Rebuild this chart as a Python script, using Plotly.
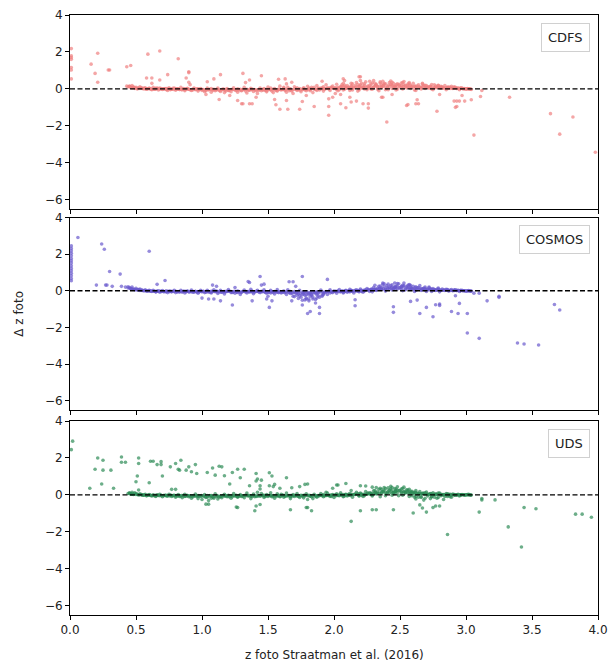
import plotly.graph_objects as go
from plotly.subplots import make_subplots

# ---------------- CDFS ----------------
cdfs_x = [
    0.45,0.46,0.47,0.48,0.50,0.52,0.53,0.55,0.57,0.58,
    0.60,0.62,0.63,0.65,0.67,0.68,0.70,0.72,0.74,0.75,
    0.77,0.79,0.80,0.82,0.84,0.85,0.87,0.89,0.90,0.92,
    0.94,0.95,0.97,0.99,1.00,1.02,1.04,1.05,1.07,1.09,
    1.10,1.12,1.14,1.15,1.17,1.19,1.20,1.22,1.24,1.25,
    1.27,1.29,1.30,1.32,1.34,1.35,1.37,1.39,1.40,1.42,
    1.44,1.45,1.47,1.49,1.50,1.52,1.54,1.55,1.57,1.59,
    1.60,1.62,1.64,1.65,1.67,1.69,1.70,1.72,1.74,1.75,
    1.77,1.79,1.80,1.82,1.84,1.85,1.87,1.89,1.90,1.92,
    1.94,1.95,1.97,1.99,2.00,2.02,2.04,2.05,2.07,2.09,
    2.10,2.12,2.14,2.15,2.17,2.19,2.20,2.22,2.24,2.25,
    2.27,2.29,2.30,2.32,2.34,2.35,2.37,2.39,2.40,2.42,
    2.44,2.45,2.47,2.49,2.50,2.52,2.54,2.55,2.57,2.59,
    2.60,2.62,2.64,2.65,2.67,2.69,2.70,2.72,2.74,2.75,
    2.77,2.79,2.80,2.82,2.84,2.85,2.87,2.89,2.90,2.92,
    2.94,2.95,2.97,2.99,3.00,3.02,3.04,2.12,2.28,2.46,
    0.51,0.56,0.61,0.66,0.71,0.76,0.81,0.86,0.91,0.96,
    1.01,1.06,1.11,1.16,1.21,1.26,1.31,1.36,1.41,1.46,
    1.51,1.56,1.61,1.66,1.71,1.76,1.81,1.86,1.91,1.96,
    2.01,2.06,2.11,2.16,2.21,2.26,2.31,2.36,2.41,2.46,
    2.51,2.56,2.61,2.66,2.71,2.76,2.81,2.86,2.91,2.96,
    2.03,2.08,2.13,2.18,2.23,2.33,2.38,2.43,2.48,2.53,
    0.44,0.47,0.49,0.54,0.59,0.64,0.69,0.73,0.78,0.83,
    0.88,0.93,0.98,1.03,1.08,1.13,1.18,1.23,1.28,1.33,
    1.38,1.43,1.48,1.53,1.58,1.63,1.68,1.73,1.78,1.83,
    1.88,1.93,1.98,2.03,2.08,2.13,2.18,2.23,2.28,2.33,
    2.38,2.43,2.48,2.53,2.58,2.63,2.68,2.73,2.78,2.83,
    2.88,2.93,2.98,3.03,2.02,2.06,2.14,2.19,2.26,2.31,
    2.36,2.41,2.44,2.51,2.56,2.62,2.67,2.72,2.76,2.81,
    0.65,0.73,0.87,0.97,1.07,1.17,1.27,1.37,1.47,1.57,
    1.67,1.77,1.87,1.97,2.09,2.21,2.32,2.47,2.58,2.69,
    2.79,2.86,2.91,2.96,3.01,1.52,1.62,1.72,1.82,1.92,
    0.01,0.01,0.01,0.01,0.01,0.01,0.01,0.16,0.19,0.21,
    0.21,0.29,0.30,0.43,0.46,0.43,0.45,0.58,0.62,0.59,
    0.62,0.68,0.68,0.74,0.82,0.88,0.90,0.90,0.90,0.91,
    1.04,1.09,1.14,1.03,1.13,1.21,1.27,1.30,1.31,1.31,
    1.33,1.36,1.36,1.38,1.41,1.45,1.49,1.55,1.56,1.58,
    1.59,1.63,1.64,1.65,1.68,1.64,1.74,1.76,1.79,1.85,
    1.91,1.96,1.96,1.99,2.05,2.19,2.20,2.20,2.27,2.30,
    2.37,2.09,2.12,2.13,2.17,2.22,2.26,2.26,2.36,2.37,
    2.40,2.44,2.55,2.56,2.62,2.64,2.63,2.78,2.80,2.91,
    2.93,2.95,2.92,2.93,2.97,2.99,3.04,3.06,3.12,3.11,
    3.33,3.64,3.71,3.81,3.98,2.07,1.96,2.01,2.05,2.08,
]
cdfs_y = [
    0.15,0.10,0.18,0.12,0.08,0.05,0.12,0.02,0.06,-0.02,
    0.04,-0.05,0.08,0.00,-0.06,0.05,-0.03,0.02,-0.08,0.06,
    -0.02,0.04,-0.07,0.01,0.08,-0.04,-0.10,0.03,-0.02,-0.09,
    0.05,-0.05,-0.12,0.02,-0.08,-0.15,0.04,-0.06,-0.18,-0.02,
    -0.10,0.05,-0.14,-0.04,-0.20,0.02,-0.08,-0.15,0.06,-0.05,
    -0.18,-0.02,-0.10,0.08,-0.22,-0.06,0.03,-0.14,-0.03,-0.25,
    0.05,-0.10,-0.02,-0.16,0.10,-0.05,-0.20,0.02,-0.12,0.15,
    -0.06,0.04,-0.18,0.08,-0.04,-0.25,0.12,-0.08,0.02,-0.15,
    0.06,-0.10,0.14,-0.03,-0.20,0.08,0.18,-0.06,0.02,-0.12,
    0.22,0.05,-0.08,0.15,0.02,0.25,-0.05,0.12,0.30,0.04,
    0.18,-0.08,0.28,0.08,0.35,0.00,0.22,0.12,0.38,-0.04,
    0.20,0.32,0.06,0.25,-0.10,0.38,0.15,0.28,0.02,0.34,
    0.18,0.30,-0.06,0.24,0.10,0.35,0.20,0.05,0.28,0.14,
    0.30,-0.08,0.22,0.10,0.26,0.02,0.18,0.12,0.24,-0.05,
    0.15,0.20,0.05,0.12,0.18,-0.04,0.10,0.14,0.02,0.08,
    0.06,-0.05,0.04,0.02,-0.02,0.01,-0.03,0.02,0.00,0.08,
    0.00,0.04,-0.02,0.03,0.00,-0.04,-0.01,0.02,-0.05,0.00,
    -0.04,-0.02,-0.06,-0.01,-0.05,-0.08,-0.03,-0.06,-0.10,-0.04,
    -0.02,-0.08,-0.03,-0.10,0.00,-0.05,0.04,-0.02,0.06,0.00,
    0.06,0.14,0.10,0.18,0.05,0.12,0.16,0.08,0.20,0.14,
    0.18,0.10,0.14,0.06,0.10,0.06,0.08,0.04,0.05,0.02,
    -0.10,-0.02,0.00,-0.12,0.28,-0.02,0.24,0.42,-0.02,0.40,
    0.12,0.06,0.03,0.06,0.01,-0.02,0.02,-0.04,0.03,-0.03,
    0.01,-0.06,-0.03,-0.10,-0.04,-0.08,-0.12,-0.02,-0.06,-0.12,
    -0.04,-0.08,-0.06,-0.12,-0.02,-0.08,-0.12,-0.04,-0.06,0.08,
    0.04,-0.02,0.10,0.08,0.20,0.16,0.24,0.18,0.26,0.12,
    0.30,0.24,0.28,0.22,0.20,0.16,0.18,0.14,0.10,0.06,
    0.08,0.03,0.00,0.00,-0.04,0.22,-0.06,0.14,0.04,0.30,
    0.22,-0.04,0.36,0.32,0.26,0.08,0.30,0.04,0.22,0.14,
    0.05,0.02,-0.05,0.00,0.02,-0.03,0.00,-0.02,0.02,-0.04,
    0.00,0.02,-0.08,0.06,0.10,0.30,0.20,0.24,0.02,0.20,
    0.18,0.10,0.12,0.06,0.02,0.04,0.08,0.06,-0.10,0.12,
    2.18,1.79,1.60,1.70,1.16,1.02,0.54,1.34,0.84,1.93,
    0.36,1.02,1.02,1.20,1.27,0.15,0.13,0.59,0.59,1.88,
    0.30,2.05,0.48,0.77,1.63,0.59,0.93,0.88,0.36,0.23,
    0.39,0.54,0.77,-0.30,-0.57,-0.36,-0.63,-0.80,-0.80,0.84,
    0.34,0.48,-0.80,-0.80,-0.45,0.71,-0.10,-0.57,-0.86,0.52,
    -1.10,0.54,0.27,-1.10,0.36,-0.63,-1.10,-0.68,-0.36,-0.95,
    0.41,-0.95,-1.43,-0.45,-0.80,0.66,0.66,0.45,0.41,0.45,
    0.41,-1.02,-0.45,-0.71,-0.66,-0.80,-0.80,-1.04,-0.45,-0.45,
    -1.79,-0.30,-0.90,-0.85,-0.80,-0.80,-0.59,-1.21,-0.30,-0.66,
    -0.66,-0.66,-1.00,-0.95,-0.36,-0.66,-0.59,-2.50,-0.09,-0.41,
    -0.45,-1.34,-2.45,-1.52,-3.43,0.55,-0.54,-0.25,-0.30,0.45,
]

# ---------------- COSMOS ----------------
cosmos_x = [
    0.45,0.46,0.47,0.48,0.50,0.52,0.53,0.55,0.57,0.58,
    0.60,0.62,0.63,0.65,0.67,0.68,0.70,0.72,0.74,0.75,
    0.77,0.79,0.80,0.82,0.84,0.85,0.87,0.89,0.90,0.92,
    0.94,0.95,0.97,0.99,1.00,1.02,1.04,1.05,1.07,1.09,
    1.10,1.12,1.14,1.15,1.17,1.19,1.20,1.22,1.24,1.25,
    1.27,1.29,1.30,1.32,1.34,1.35,1.37,1.39,1.40,1.42,
    1.44,1.45,1.47,1.49,1.50,1.52,1.54,1.55,1.57,1.59,
    1.60,1.62,1.64,1.65,1.67,1.69,1.70,1.72,1.74,1.75,
    1.77,1.79,1.80,1.82,1.84,1.85,1.87,1.89,1.90,1.92,
    1.94,1.95,1.97,1.99,2.00,2.02,2.04,2.05,2.07,2.09,
    2.10,2.12,2.14,2.15,2.17,2.19,2.20,2.22,2.24,2.25,
    2.27,2.29,2.30,2.32,2.34,2.35,2.37,2.39,2.40,2.42,
    2.44,2.45,2.47,2.49,2.50,2.52,2.54,2.55,2.57,2.59,
    2.60,2.62,2.64,2.65,2.67,2.69,2.70,2.72,2.74,2.75,
    2.77,2.79,2.80,2.82,2.84,2.85,2.87,2.89,2.90,2.92,
    2.94,2.95,2.97,2.99,3.00,3.02,3.04,2.12,2.28,2.46,
    0.51,0.56,0.61,0.66,0.71,0.76,0.81,0.86,0.91,0.96,
    1.01,1.06,1.11,1.16,1.21,1.26,1.31,1.36,1.41,1.46,
    1.51,1.56,1.61,1.66,1.71,1.76,1.81,1.86,1.91,1.96,
    2.01,2.06,2.11,2.16,2.21,2.26,2.31,2.36,2.41,2.46,
    2.51,2.56,2.61,2.66,2.71,2.76,2.81,2.86,2.91,2.96,
    1.78,1.81,1.83,1.86,1.88,1.76,1.73,2.48,2.53,2.58,
    0.44,0.47,0.49,0.54,0.59,0.64,0.69,0.73,0.78,0.83,
    0.88,0.93,0.98,1.03,1.08,1.13,1.18,1.23,1.28,1.33,
    1.38,1.43,1.48,1.53,1.58,1.63,1.68,1.73,1.78,1.83,
    1.88,1.93,1.98,2.03,2.08,2.13,2.18,2.23,2.28,2.33,
    2.38,2.43,2.48,2.53,2.58,2.63,2.68,2.73,2.78,2.83,
    2.88,2.93,2.98,3.03,1.70,1.74,1.79,1.84,1.87,1.91,
    2.36,2.41,2.44,2.51,2.56,2.62,2.67,2.72,2.31,2.46,
    0.65,0.73,0.87,0.97,1.07,1.17,1.27,1.37,1.47,1.57,
    1.67,1.77,1.87,1.97,2.09,2.21,2.32,2.47,2.58,2.69,
    2.79,2.86,2.91,2.96,3.01,1.52,1.62,1.72,1.82,1.92,
    0.01,0.01,0.01,0.01,0.01,0.01,0.01,0.01,0.01,0.01,
    0.01,0.01,0.01,0.01,0.01,
    0.06,0.20,0.24,0.26,0.27,0.28,0.30,0.32,0.38,0.39,
    0.42,0.44,0.60,0.66,0.72,1.00,1.05,1.09,1.08,1.11,
    1.14,1.23,1.25,1.35,1.36,1.38,1.44,1.45,1.47,1.49,
    1.50,1.51,1.53,1.66,1.69,1.68,1.71,1.76,1.76,1.80,
    1.82,1.86,1.89,1.89,1.95,1.79,1.81,2.37,2.38,2.16,
    2.16,2.45,2.45,2.58,2.63,2.65,2.70,2.75,2.77,2.80,
    2.80,2.89,2.94,2.95,3.01,3.01,3.06,3.10,3.10,3.16,
    3.25,3.25,3.39,3.44,3.55,3.67,3.71,2.92,
]
cosmos_y = [
    0.18,0.12,0.20,0.08,0.14,0.06,0.10,0.02,0.05,-0.02,
    0.03,-0.04,0.02,-0.06,-0.02,-0.08,0.01,-0.05,-0.10,-0.03,
    -0.06,0.02,-0.10,-0.04,0.03,-0.08,-0.12,-0.02,-0.06,0.04,
    -0.08,-0.03,-0.14,0.02,-0.06,-0.10,0.03,-0.05,-0.12,0.05,
    -0.04,-0.15,0.02,-0.08,-0.18,-0.03,0.06,-0.10,-0.05,-0.14,
    -0.02,-0.20,-0.08,0.04,-0.12,-0.04,0.08,-0.16,-0.06,0.02,
    -0.10,-0.03,0.05,-0.14,-0.06,0.03,-0.10,-0.18,0.06,-0.04,
    -0.12,-0.02,-0.20,0.05,-0.15,-0.30,-0.05,-0.25,0.02,-0.35,
    -0.18,-0.40,-0.08,-0.30,-0.45,-0.12,-0.22,-0.35,0.04,-0.15,
    -0.06,-0.20,0.05,-0.10,-0.02,-0.14,0.06,-0.05,-0.12,0.02,
    -0.08,0.08,-0.04,-0.12,0.05,-0.02,0.10,-0.08,0.04,0.12,
    -0.04,0.08,0.18,0.02,0.25,0.12,0.35,0.06,0.28,0.20,
    0.32,0.10,0.26,0.38,0.15,0.30,0.05,0.22,0.34,0.12,
    0.24,0.02,0.18,0.28,0.08,0.14,-0.04,0.20,0.06,0.12,
    0.02,0.15,-0.06,0.10,0.04,0.08,-0.02,0.06,0.00,0.05,
    0.02,-0.04,0.03,0.00,-0.03,0.01,-0.02,-0.06,0.04,0.20,
    0.06,0.00,-0.02,-0.03,-0.05,-0.02,-0.05,-0.03,-0.04,-0.06,
    -0.03,-0.06,-0.02,-0.05,-0.03,-0.07,-0.04,-0.06,-0.03,-0.05,
    -0.04,-0.06,-0.08,-0.10,-0.14,-0.20,-0.16,-0.08,-0.24,-0.04,
    -0.04,-0.02,0.00,0.02,0.00,0.06,0.10,0.16,0.12,0.18,
    0.20,0.14,0.10,0.12,0.08,0.06,0.04,0.02,0.03,0.01,
    -0.50,-0.55,-0.25,-0.48,-0.28,-0.52,-0.42,0.40,0.42,0.30,
    0.15,0.10,0.06,0.04,-0.01,-0.03,-0.04,-0.06,-0.03,-0.07,
    -0.05,-0.08,-0.04,-0.08,-0.03,-0.07,-0.05,-0.09,-0.04,-0.07,
    -0.03,-0.06,-0.09,-0.05,-0.10,-0.08,-0.12,-0.18,-0.25,-0.20,
    -0.12,-0.08,-0.06,-0.03,-0.05,0.00,-0.03,0.04,0.08,0.14,
    0.22,0.28,0.25,0.28,0.20,0.16,0.14,0.10,0.08,0.04,
    0.03,0.02,0.00,-0.01,-0.32,-0.28,-0.22,-0.35,-0.40,-0.30,
    0.08,0.36,0.18,0.24,0.30,0.22,0.06,0.16,0.30,0.42,
    -0.06,-0.02,-0.03,-0.05,-0.08,-0.04,-0.09,-0.05,-0.04,-0.08,
    -0.06,-0.10,-0.06,-0.12,0.00,-0.04,0.06,0.12,0.10,0.20,
    0.10,0.06,0.04,0.02,0.00,-0.12,-0.04,-0.08,-0.12,-0.20,
    2.45,2.31,2.18,2.05,1.91,1.76,1.64,1.51,1.36,1.22,
    1.09,0.96,0.82,0.67,0.55,
    2.91,0.31,2.55,2.27,0.31,0.31,1.05,0.24,0.91,0.24,
    0.20,0.22,2.16,0.35,0.56,-0.40,-0.45,-0.45,0.31,0.24,
    -0.55,-0.78,0.18,0.50,0.45,-0.55,0.78,0.31,0.36,-0.45,
    -0.30,-0.91,-0.55,0.49,0.49,-0.55,0.24,0.78,-0.78,-1.24,
    -1.13,-0.67,-0.91,-1.24,0.62,-0.45,-0.45,0.42,0.38,-0.49,
    -0.82,-0.87,-1.18,-0.58,-0.51,-1.24,-0.91,-1.42,-0.76,-0.72,
    -0.80,-1.13,-1.24,-0.69,-1.24,-2.31,-0.13,-0.13,-2.60,-0.55,
    -0.30,-0.36,-2.85,-2.91,-2.96,-0.75,-1.05,-0.27,
]

# ---------------- UDS ----------------
uds_x = [
    0.45,0.46,0.47,0.48,0.50,0.52,0.53,0.55,0.57,0.58,
    0.60,0.62,0.63,0.65,0.67,0.68,0.70,0.72,0.74,0.75,
    0.77,0.79,0.80,0.82,0.84,0.85,0.87,0.89,0.90,0.92,
    0.94,0.95,0.97,0.99,1.00,1.02,1.04,1.05,1.07,1.09,
    1.10,1.12,1.14,1.15,1.17,1.19,1.20,1.22,1.24,1.25,
    1.27,1.29,1.30,1.32,1.34,1.35,1.37,1.39,1.40,1.42,
    1.44,1.45,1.47,1.49,1.50,1.52,1.54,1.55,1.57,1.59,
    1.60,1.62,1.64,1.65,1.67,1.69,1.70,1.72,1.74,1.75,
    1.77,1.79,1.80,1.82,1.84,1.85,1.87,1.89,1.90,1.92,
    1.94,1.95,1.97,1.99,2.00,2.02,2.04,2.05,2.07,2.09,
    2.10,2.12,2.14,2.15,2.17,2.19,2.20,2.22,2.24,2.25,
    2.27,2.29,2.30,2.32,2.34,2.35,2.37,2.39,2.40,2.42,
    2.44,2.45,2.47,2.49,2.50,2.52,2.54,2.55,2.57,2.59,
    2.60,2.62,2.64,2.65,2.67,2.69,2.70,2.72,2.74,2.75,
    2.77,2.79,2.80,2.82,2.84,2.85,2.87,2.89,2.90,2.92,
    2.94,2.95,2.97,2.99,3.00,3.02,3.04,2.12,2.28,2.46,
    0.51,0.56,0.61,0.66,0.71,0.76,0.81,0.86,0.91,0.96,
    1.01,1.06,1.11,1.16,1.21,1.26,1.31,1.36,1.41,1.46,
    1.51,1.56,1.61,1.66,1.71,1.76,1.81,1.86,1.91,1.96,
    2.01,2.06,2.11,2.16,2.21,2.26,2.31,2.36,2.41,2.46,
    2.51,2.56,2.61,2.66,2.71,2.76,2.81,2.86,2.91,2.96,
    2.62,2.68,2.73,2.78,2.83,2.88,2.48,2.53,2.38,2.43,
    0.44,0.47,0.49,0.54,0.59,0.64,0.69,0.73,0.78,0.83,
    0.88,0.93,0.98,1.03,1.08,1.13,1.18,1.23,1.28,1.33,
    1.38,1.43,1.48,1.53,1.58,1.63,1.68,1.73,1.78,1.83,
    1.88,1.93,1.98,2.03,2.08,2.13,2.18,2.23,2.28,2.33,
    2.38,2.43,2.48,2.53,2.58,2.63,2.68,2.73,2.78,2.83,
    2.88,2.93,2.98,3.03,2.41,2.46,2.51,2.56,2.36,2.31,
    2.62,2.66,2.71,2.76,2.81,2.86,2.44,2.54,2.59,2.64,
    0.65,0.73,0.87,0.97,1.07,1.17,1.27,1.37,1.47,1.57,
    1.67,1.77,1.87,1.97,2.09,2.21,2.32,2.47,2.58,2.69,
    2.79,2.86,2.91,2.96,3.01,1.52,1.62,1.72,1.82,1.92,
    0.02,0.01,0.15,0.19,0.21,0.25,0.25,0.24,0.31,0.33,
    0.39,0.42,0.39,0.45,0.46,0.50,0.51,0.52,0.52,0.52,
    0.60,0.61,0.63,0.66,0.69,0.69,0.70,0.76,0.77,0.80,
    0.80,0.82,0.83,0.84,0.88,0.90,0.92,0.95,0.96,1.04,
    1.08,1.10,1.13,1.15,1.17,1.21,1.23,1.27,1.29,1.32,
    1.36,1.26,1.27,1.40,1.41,1.42,1.41,1.44,1.45,1.44,
    1.51,1.53,1.54,1.51,1.55,1.59,1.64,1.68,1.67,1.74,
    1.78,1.80,1.83,1.79,1.80,1.94,2.03,1.05,1.03,1.41,
    1.44,1.99,2.02,2.09,2.20,2.24,2.29,2.32,2.13,2.20,
    2.29,2.32,2.45,2.60,2.65,2.67,2.70,2.75,2.77,2.80,
    2.86,3.10,3.12,3.12,3.22,3.32,3.42,3.44,3.53,3.83,
    3.88,3.95,
]
uds_y = [
    0.10,0.05,0.14,0.02,0.08,0.00,0.06,-0.02,0.03,-0.05,
    0.02,-0.06,0.00,-0.08,-0.03,0.04,-0.10,-0.02,-0.06,0.03,
    -0.08,-0.02,-0.12,0.02,-0.06,-0.15,0.04,-0.04,-0.10,-0.18,
    -0.05,0.05,-0.20,-0.08,-0.25,0.02,-0.12,-0.30,-0.04,-0.18,
    0.06,-0.22,-0.08,-0.15,0.04,-0.10,-0.02,-0.18,0.08,-0.06,
    -0.12,0.02,-0.08,-0.15,0.10,-0.04,-0.20,0.05,-0.10,0.14,
    -0.06,0.08,-0.14,0.02,-0.08,0.12,-0.04,-0.18,0.06,-0.10,
    0.04,-0.12,0.10,-0.05,-0.20,0.02,-0.08,0.08,-0.14,-0.02,
    -0.16,0.06,-0.25,-0.06,-0.20,0.03,-0.12,-0.04,0.08,-0.10,
    -0.03,0.10,-0.08,0.02,-0.14,0.06,-0.04,0.12,-0.10,0.04,
    -0.06,0.08,-0.12,0.02,0.14,-0.04,0.10,-0.08,0.18,0.04,
    0.12,-0.06,0.22,0.06,0.30,-0.10,0.18,0.35,0.08,0.26,
    0.40,0.14,0.32,-0.04,0.24,0.36,0.10,0.28,-0.08,0.20,
    0.14,0.24,-0.12,0.18,0.08,-0.18,0.16,0.04,-0.10,0.12,
    0.06,-0.14,0.10,0.02,-0.08,0.08,0.04,-0.12,0.05,-0.02,
    0.04,-0.06,0.02,-0.02,0.01,0.03,-0.01,-0.02,0.02,0.06,
    0.03,-0.01,-0.03,0.00,-0.04,-0.01,-0.04,-0.02,-0.06,-0.03,
    -0.06,-0.04,-0.08,-0.03,-0.06,-0.02,-0.05,-0.03,-0.06,-0.02,
    -0.03,-0.05,-0.02,-0.04,-0.03,-0.06,-0.02,-0.05,-0.03,-0.02,
    0.00,0.02,0.03,0.05,0.04,0.08,0.12,0.15,0.20,0.18,
    0.16,0.12,0.10,0.06,0.04,0.02,0.03,0.00,-0.01,0.00,
    -0.22,-0.28,-0.20,-0.18,-0.25,-0.10,0.44,0.42,0.40,0.46,
    0.08,0.04,0.12,0.02,-0.02,-0.04,-0.02,-0.06,-0.04,-0.08,
    -0.03,-0.10,-0.06,-0.14,-0.08,-0.12,-0.04,-0.10,-0.06,-0.02,
    -0.08,-0.03,-0.06,-0.10,-0.04,-0.07,-0.03,-0.08,-0.05,-0.10,
    -0.06,-0.04,-0.08,-0.03,-0.06,0.00,0.06,0.02,0.10,0.16,
    0.24,0.30,0.26,0.20,0.12,0.10,0.06,0.08,0.04,0.02,
    0.03,0.00,0.01,0.00,0.38,0.34,0.32,0.26,0.30,0.24,
    -0.08,-0.14,-0.06,-0.12,-0.04,-0.08,0.10,0.16,-0.04,0.04,
    -0.05,-0.03,-0.08,-0.04,-0.18,-0.06,-0.10,-0.06,-0.02,-0.06,
    -0.10,-0.04,-0.06,-0.02,0.02,-0.02,0.06,0.20,0.18,0.12,
    0.10,0.06,0.02,0.00,0.02,-0.05,-0.02,-0.04,-0.06,0.02,
    2.91,2.45,0.36,1.39,2.00,1.88,1.34,0.59,1.34,0.36,
    1.77,1.77,2.05,0.10,0.05,0.71,1.02,1.70,2.00,0.27,
    0.66,1.82,1.82,1.64,1.80,1.64,1.02,1.52,0.30,0.30,
    1.70,1.39,1.34,1.88,1.34,1.52,1.25,1.64,1.16,1.21,
    1.46,1.07,1.55,1.52,1.04,0.59,1.21,1.39,0.93,1.39,
    0.50,-0.66,-0.68,-0.86,1.16,0.86,0.75,0.50,0.80,0.32,
    1.20,1.02,0.45,0.50,0.57,0.36,0.93,0.39,-0.80,0.45,
    0.57,0.59,-0.86,-0.68,-0.68,0.14,0.54,-0.50,-0.50,-0.60,
    -0.52,0.36,0.54,0.62,0.50,0.48,0.42,0.40,-1.43,-0.86,
    -0.80,-0.80,-0.80,-0.98,-0.54,-0.71,-0.93,-0.68,-0.60,-0.60,
    -2.14,-0.93,-0.20,-0.27,-0.27,-1.73,-2.82,-0.68,-0.75,-1.04,
    -1.04,-1.21,
]

# Extra points of the dense core band (same x positions in all three fields)
core_x = [
    0.455,0.485,0.515,0.545,0.575,0.605,0.635,0.665,0.695,0.725,
    0.755,0.785,0.815,0.845,0.875,0.905,0.935,0.965,0.995,1.025,
    1.055,1.085,1.115,1.145,1.175,1.205,1.235,1.265,1.295,1.325,
    1.355,1.385,1.415,1.445,1.475,1.505,1.535,1.565,1.595,1.625,
    1.655,1.685,1.715,1.745,1.775,1.805,1.835,1.865,1.895,1.925,
    1.955,1.985,2.015,2.045,2.075,2.105,2.135,2.165,2.195,2.225,
    2.255,2.285,2.315,2.345,2.375,2.405,2.435,2.465,2.495,2.525,
    2.555,2.585,2.615,2.645,2.675,2.705,2.735,2.765,2.795,2.825,
    2.855,2.885,2.915,2.945,2.975,3.005,3.035,2.13,2.35,2.57,
    2.23,2.44,2.66,2.19,2.39,2.61,2.07,2.29,2.52,2.74,
    0.470,0.500,0.530,0.560,0.590,0.620,0.650,0.680,0.710,0.740,
    0.770,0.800,0.830,0.860,0.890,0.920,0.950,0.980,1.010,1.040,
    1.070,1.100,1.130,1.160,1.190,1.220,1.250,1.280,1.310,1.340,
    1.370,1.400,1.430,1.460,1.490,1.520,1.550,1.580,1.610,1.640,
    1.670,1.700,1.730,1.760,1.790,1.820,1.850,1.880,1.910,1.940,
    1.970,2.000,2.030,2.060,2.090,2.120,2.150,2.180,2.210,2.240,
    2.270,2.300,2.330,2.360,2.390,2.420,2.450,2.480,2.510,2.540,
    2.570,2.600,2.630,2.660,2.690,2.720,2.750,2.780,2.810,2.840,
    2.870,2.900,2.930,2.960,2.990,3.020,
]
cdfs_core_y = [
    0.10,0.07,0.04,0.03,0.00,0.02,-0.01,0.03,0.00,-0.02,
    0.01,-0.03,0.00,-0.04,-0.01,-0.03,0.01,-0.05,-0.02,-0.06,
    -0.03,-0.07,-0.02,-0.06,-0.04,-0.09,-0.03,-0.05,-0.08,-0.03,
    -0.07,-0.02,-0.06,-0.03,-0.08,-0.04,-0.02,-0.06,-0.03,-0.05,
    -0.02,-0.06,-0.03,-0.07,0.00,-0.04,0.02,-0.03,0.03,0.01,
    0.04,0.06,0.03,0.08,0.12,0.06,0.14,0.10,0.16,0.08,
    0.16,0.10,0.20,0.14,0.18,0.12,0.22,0.16,0.20,0.12,
    0.18,0.12,0.16,0.10,0.14,0.08,0.12,0.06,0.10,0.04,
    0.06,0.03,0.04,0.01,0.02,0.00,-0.01,0.30,0.32,0.34,
    0.00,0.02,0.00,-0.06,-0.04,-0.06,-0.06,-0.02,0.00,0.00,
    0.06,0.03,0.02,0.00,0.01,-0.01,0.00,-0.02,0.01,-0.01,
    -0.02,0.00,-0.03,-0.01,-0.02,-0.04,-0.02,-0.03,-0.05,-0.02,
    -0.04,-0.03,-0.05,-0.02,-0.04,-0.03,-0.06,-0.03,-0.04,-0.02,
    -0.04,-0.05,-0.03,-0.04,-0.02,-0.05,-0.03,-0.04,-0.02,-0.03,
    -0.04,-0.02,-0.03,-0.01,-0.03,0.00,-0.02,0.01,0.00,0.02,
    0.01,0.03,0.02,0.05,0.04,0.06,0.05,0.08,0.06,0.09,
    0.07,0.10,0.08,0.10,0.09,0.12,0.10,0.11,0.09,0.10,
    0.08,0.09,0.07,0.08,0.06,0.07,0.05,0.06,0.04,0.05,
    0.03,0.04,0.02,0.02,0.01,0.00,
]
cosmos_core_y = [
    0.12,0.08,0.05,0.02,0.00,-0.02,-0.03,-0.02,-0.04,-0.03,
    -0.05,-0.04,-0.06,-0.03,-0.05,-0.07,-0.04,-0.06,-0.03,-0.05,
    -0.07,-0.04,-0.06,-0.08,-0.05,-0.03,-0.07,-0.05,-0.09,-0.04,
    -0.06,-0.08,-0.04,-0.07,-0.05,-0.09,-0.06,-0.04,-0.08,-0.10,
    -0.06,-0.12,-0.09,-0.15,-0.08,-0.18,-0.10,-0.14,-0.06,-0.10,
    -0.04,-0.07,-0.03,-0.05,-0.02,-0.04,0.00,-0.02,0.02,0.00,
    0.04,0.08,0.06,0.12,0.10,0.16,0.14,0.20,0.16,0.22,
    0.18,0.14,0.16,0.10,0.12,0.08,0.10,0.05,0.06,0.03,
    0.04,0.02,0.02,0.01,0.00,-0.01,-0.02,0.02,0.26,0.30,
    -0.02,0.04,0.02,-0.06,-0.02,-0.04,-0.08,-0.06,0.00,-0.04,
    0.08,0.05,0.02,0.00,-0.01,-0.02,-0.03,-0.02,-0.04,-0.03,
    -0.04,-0.03,-0.05,-0.04,-0.03,-0.05,-0.04,-0.06,-0.04,-0.05,
    -0.03,-0.05,-0.04,-0.06,-0.04,-0.05,-0.03,-0.06,-0.04,-0.05,
    -0.04,-0.06,-0.05,-0.04,-0.06,-0.05,-0.04,-0.06,-0.05,-0.06,
    -0.05,-0.07,-0.06,-0.08,-0.07,-0.09,-0.06,-0.08,-0.05,-0.04,
    -0.03,-0.04,-0.02,-0.03,-0.01,-0.02,0.00,0.01,0.02,0.03,
    0.04,0.05,0.07,0.08,0.10,0.09,0.11,0.10,0.12,0.09,
    0.10,0.08,0.07,0.06,0.05,0.05,0.04,0.03,0.03,0.02,
    0.02,0.01,0.01,0.00,0.00,-0.01,
]
uds_core_y = [
    0.08,0.05,0.02,0.00,-0.02,-0.01,-0.03,-0.02,-0.04,-0.02,
    -0.05,-0.03,-0.06,-0.04,-0.07,-0.05,-0.03,-0.08,-0.04,-0.10,
    -0.06,-0.12,-0.04,-0.08,-0.05,-0.10,-0.03,-0.07,-0.05,-0.03,
    -0.06,-0.04,-0.08,-0.05,-0.07,-0.03,-0.06,-0.04,-0.08,-0.05,
    -0.03,-0.07,-0.04,-0.06,-0.02,-0.05,-0.03,-0.06,-0.02,-0.04,
    -0.03,-0.01,-0.04,0.00,0.02,-0.02,0.04,0.02,0.06,0.04,
    0.10,0.06,0.14,0.10,0.18,0.14,0.22,0.18,0.24,0.16,
    0.20,0.12,0.14,0.08,0.10,0.04,0.06,0.02,0.04,0.00,
    0.02,-0.01,0.01,0.00,0.01,0.00,-0.01,0.24,0.36,0.30,
    -0.04,-0.02,-0.10,-0.06,-0.04,-0.12,-0.06,0.00,-0.02,-0.10,
    0.05,0.02,0.01,-0.01,-0.02,-0.03,-0.02,-0.04,-0.03,-0.04,
    -0.03,-0.05,-0.04,-0.06,-0.04,-0.05,-0.07,-0.05,-0.06,-0.04,
    -0.06,-0.05,-0.07,-0.04,-0.06,-0.05,-0.04,-0.06,-0.05,-0.04,
    -0.05,-0.04,-0.06,-0.04,-0.05,-0.03,-0.05,-0.04,-0.03,-0.05,
    -0.04,-0.03,-0.05,-0.04,-0.03,-0.04,-0.05,-0.03,-0.04,-0.03,
    -0.02,-0.03,-0.01,-0.02,0.00,-0.01,0.01,0.02,0.03,0.04,
    0.05,0.06,0.08,0.09,0.10,0.12,0.11,0.13,0.10,0.12,
    0.09,0.08,0.07,0.05,0.04,0.03,0.03,0.02,0.01,0.01,
    0.00,0.01,0.00,0.00,0.00,0.00,
]

fields = ["CDFS", "COSMOS", "UDS"]
field_x = [cdfs_x + core_x, cosmos_x + core_x, uds_x + core_x]
field_y = [cdfs_y + cdfs_core_y, cosmos_y + cosmos_core_y, uds_y + uds_core_y]
colors = ["#F08080", "#6A5ACD", "#2E8B57"]
zero_x = [0.0, 4.0]
zero_y = [0.0, 0.0]
x_ticks = [0.0, 0.5, 1.0, 1.5, 2.0, 2.5, 3.0, 3.5, 4.0]
y_ticks = [4, 2, 0, -2, -4, -6]

fig = make_subplots(rows=3, cols=1, shared_xaxes=True)

for i, (name, xs, ys, col) in enumerate(zip(fields, field_x, field_y, colors)):
    assert len(xs) == len(ys), name
    fig.add_trace(go.Scatter(
        x=xs, y=ys, mode="markers", name=name, showlegend=False,
        marker=dict(color=col, size=3.6, opacity=0.7, line=dict(width=0)),
    ), row=i + 1, col=1)
    fig.add_trace(go.Scatter(
        x=zero_x, y=zero_y, mode="lines", showlegend=False, hoverinfo="skip",
        line=dict(color="black", width=1.3, dash="5px,2.5px"),
    ), row=i + 1, col=1)

domains = [[0.6767, 1.0], [0.342, 0.6625], [0.0, 0.3233]]
axfont = dict(family="DejaVu Sans", size=12, color="#222")
for i in range(3):
    xa = "xaxis" if i == 0 else f"xaxis{i+1}"
    ya = "yaxis" if i == 0 else f"yaxis{i+1}"
    fig.layout[ya].update(
        domain=domains[i], range=[-6.5, 4.0], tickvals=y_ticks,
        showline=True, linecolor="black", linewidth=1, mirror=True,
        ticks="outside", ticklen=4, tickwidth=1, tickcolor="black",
        showgrid=False, zeroline=False, tickfont=axfont, automargin=False,
    )
    fig.layout[xa].update(
        range=[0, 4], tickvals=x_ticks, tickformat=".1f",
        showline=True, linecolor="black", linewidth=1, mirror=True,
        ticks="outside", ticklen=4, tickwidth=1, tickcolor="black",
        showgrid=False, zeroline=False, tickfont=axfont, automargin=False,
        showticklabels=(i == 2),
    )
    yref = "y domain" if i == 0 else f"y{i+1} domain"
    xref = "x domain" if i == 0 else f"x{i+1} domain"
    fig.add_annotation(
        text=fields[i], xref=xref, yref=yref, x=0.985, y=0.96,
        xanchor="right", yanchor="top", showarrow=False,
        font=dict(family="DejaVu Sans", size=13, color="#222"),
        bordercolor="#d0d0d0", borderwidth=1, borderpad=6, bgcolor="white",
    )

fig.add_annotation(
    text="Δ z foto", xref="paper", yref="paper", x=-0.098, y=0.5025,
    xanchor="center", yanchor="middle", textangle=-90, showarrow=False,
    font=dict(family="DejaVu Sans", size=12, color="#222"),
)
fig.add_annotation(
    text="z foto Straatman et al. (2016)", xref="paper", yref="paper",
    x=0.5, y=-0.0667, xanchor="center", yanchor="middle", showarrow=False,
    font=dict(family="DejaVu Sans", size=12, color="#222"),
)

fig.update_layout(
    width=612, height=666, plot_bgcolor="white", paper_bgcolor="white",
    margin=dict(l=70, r=14, t=15, b=51), showlegend=False,
)
fig.write_html("out.html")
